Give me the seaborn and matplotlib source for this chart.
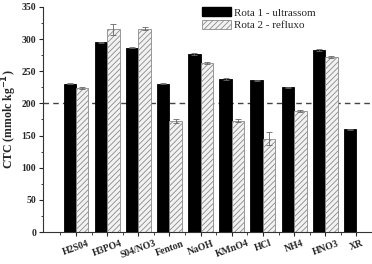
import matplotlib
matplotlib.use("Agg")
import matplotlib.pyplot as plt
import seaborn as sns
import pandas as pd
import numpy as np

categories = ["H2S04", "H3PO4", "S04/NO3", "Fenton", "NaOH", "KMnO4", "HCl", "NH4", "HNO3", "XR"]
rota1 = [231, 295, 287, 231, 277, 238, 236, 225, 283, 160]
rota1_err = [1.5, 1.0, 1.0, 1.0, 1.0, 1.0, 1.0, 1.0, 1.0, 1.0]
rota2 = [224, 315, 316, 173, 263, 173, 145, 188, 272, np.nan]
rota2_err = [1.5, 9.0, 2.5, 3.0, 1.0, 2.0, 10.0, 1.5, 1.5, np.nan]
series_names = ["Rota 1 - ultrassom", "Rota 2 - refluxo"]

df = pd.DataFrame({
    "cat": categories * 2,
    "val": rota1 + rota2,
    "serie": [series_names[0]] * len(categories) + [series_names[1]] * len(categories),
})

sns.set_style("ticks")
plt.rcParams["font.family"] = ["Liberation Serif", "DejaVu Serif"]
plt.rcParams["hatch.color"] = "#8a8a8a"
plt.rcParams["hatch.linewidth"] = 0.6

fig = plt.figure(figsize=(3.72, 2.64), dpi=100)
ax = fig.add_axes([43/372, 1 - 232/264, 1 - 43/372, (232 - 7)/264])

sns.barplot(data=df, x="cat", y="val", hue="serie", order=categories,
            hue_order=series_names, palette=["black", "#f2f2f2"],
            errorbar=None, width=0.8, ax=ax, legend=True, saturation=1)

conts = ax.containers
for p in conts[0]:
    p.set_edgecolor("black")
    p.set_linewidth(0.6)
for p in conts[1]:
    p.set_edgecolor("#8a8a8a")
    p.set_linewidth(0.6)
    p.set_hatch("//////")

for cont, vals, errs in zip(conts, [rota1, rota2], [rota1_err, rota2_err]):
    e = [er for v, er in zip(vals, errs) if not np.isnan(v)]
    xs = [p.get_x() + p.get_width() / 2 for p in cont]
    hs = [p.get_height() for p in cont]
    ax.errorbar(xs, hs, yerr=e, fmt="none", ecolor="#666666",
                elinewidth=0.6, capsize=2, capthick=0.6)

ax.axhline(200, color="#444444", linestyle=(0, (4, 3)), linewidth=1.0, zorder=0.5)

ax.set_xlim(-1.06, 9.22)
ax.set_ylim(0, 350)
ax.set_yticks(np.arange(0, 351, 50))
ax.set_yticks(np.arange(0, 351, 25), minor=True)
ax.set_xticks(np.arange(-0.5, 9.6, 1), minor=True)
ax.set_xticks(range(len(categories)))
ax.set_xticklabels(categories, rotation=20, fontsize=7, fontweight="bold")
for lab in ax.get_yticklabels():
    lab.set_fontsize(7)
    lab.set_fontweight("bold")
ax.tick_params(axis="both", which="major", length=3, width=0.8, pad=2, direction="out")
ax.tick_params(axis="both", which="minor", length=1.8, width=0.6, direction="out")
ax.set_xlabel("")
ax.set_ylabel("CTC (mmolc kg$^{\\mathbf{-1}}$)", fontsize=8.5, fontweight="bold", labelpad=2)
sns.despine(ax=ax)
for s in ["left", "bottom"]:
    ax.spines[s].set_linewidth(0.8)
    ax.spines[s].set_color("#333333")

handles, labels = ax.get_legend_handles_labels()
leg = ax.legend(handles, labels, loc="upper left", bbox_to_anchor=(200/372, 1 - 5/264),
                bbox_transform=fig.transFigure, frameon=False, fontsize=8,
                handlelength=2.6, handleheight=0.9, handletextpad=0.3, labelspacing=0.2,
                borderaxespad=0, borderpad=0.2)
lh = leg.legend_handles
lh[0].set_edgecolor("black")
lh[1].set_edgecolor("#8a8a8a")
lh[1].set_linewidth(0.6)
lh[1].set_hatch("//////")

fig.savefig("out.png", dpi=100)
